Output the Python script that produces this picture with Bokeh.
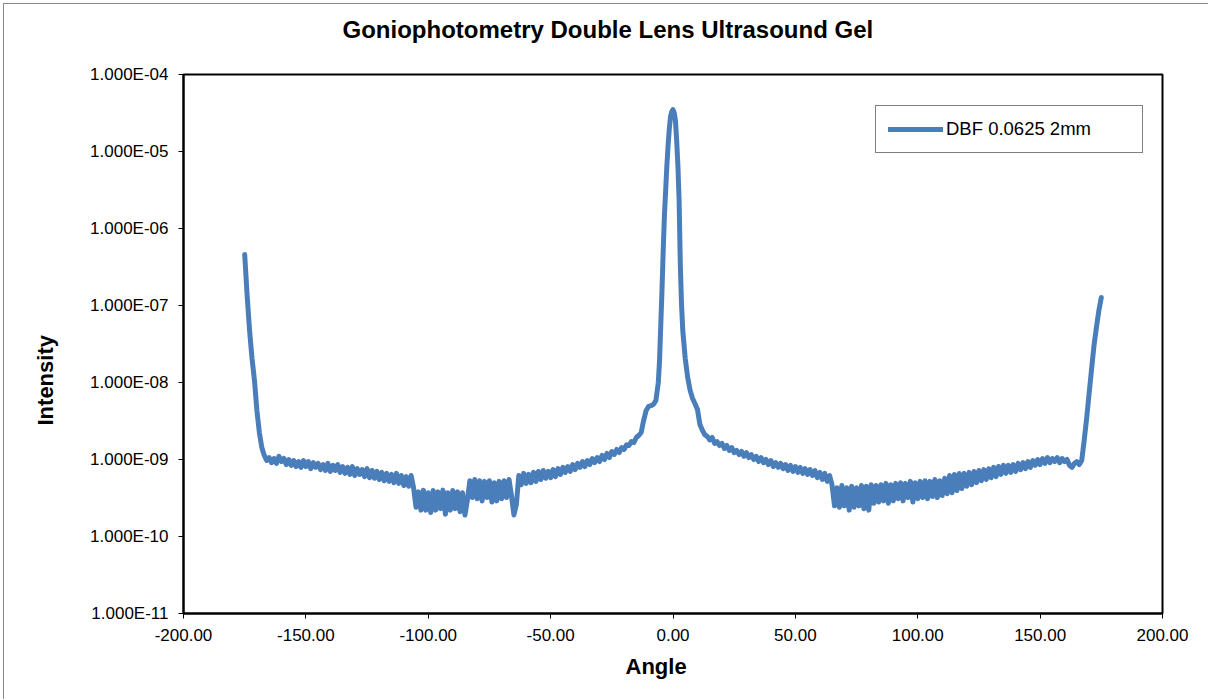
from bokeh.plotting import figure
from bokeh.models import FixedTicker, Title, LinearAxis
from bokeh.embed import file_html
from bokeh.resources import INLINE

title_text = "Goniophotometry Double Lens Ultrasound Gel"
x_title = "Angle"
y_title = "Intensity"
series_name = "DBF 0.0625 2mm"

x_ticks = [-200, -150, -100, -50, 0, 50, 100, 150, 200]
x_tick_labels = ["-200.00", "-150.00", "-100.00", "-50.00", "0.00", "50.00", "100.00", "150.00", "200.00"]
y_ticks = [1e-11, 1e-10, 1e-9, 1e-8, 1e-7, 1e-6, 1e-5, 1e-4]
y_tick_labels = ["1.000E-11", "1.000E-10", "1.000E-09", "1.000E-08", "1.000E-07", "1.000E-06", "1.000E-05", "1.000E-04"]

left_tail_angle = [-175, -174, -173, -172, -171, -170, -169, -168, -167]
left_tail_intensity = [4.6e-7, 1.35e-7, 4.7e-8, 2.05e-8, 1.06e-8, 4.3e-9, 2.24e-9, 1.43e-9, 1.13e-9]

left_band_angle = [
    -166, -165, -164, -163, -162, -161, -160, -159, -158, -157, -156, -155, -154, -153, -152, -151, -150, -149, -148, -147,
    -146, -145, -144, -143, -142, -141, -140, -139, -138, -137, -136, -135, -134, -133, -132, -131, -130, -129, -128, -127,
    -126, -125, -124, -123, -122, -121, -120, -119, -118, -117, -116, -115, -114, -113, -112, -111, -110, -109, -108, -107,
    -106, -105, -104, -103, -102, -101, -100, -99, -98, -97, -96, -95, -94, -93, -92, -91, -90, -89, -88, -87,
    -86, -85, -84, -83, -82, -81, -80, -79, -78, -77, -76, -75, -74, -73, -72, -71, -70, -69, -68, -67,
    -66, -65, -64, -63, -62, -61, -60, -59, -58, -57, -56, -55, -54, -53, -52, -51, -50, -49, -48, -47,
    -46, -45, -44, -43, -42, -41, -40, -39, -38, -37, -36, -35, -34, -33, -32, -31, -30, -29, -28, -27,
    -26, -25, -24, -23, -22, -21, -20, -19, -18, -17, -16, -15, -14]
left_band_intensity = [
    9.7e-10, 1.06e-9, 9.1e-10, 1.03e-9, 8.9e-10, 1.10e-9, 9.4e-10, 1.03e-9, 8.6e-10, 1.0e-9,
    8.4e-10, 9.7e-10, 8.1e-10, 9.4e-10, 7.9e-10, 9.7e-10, 8.1e-10, 9.4e-10, 7.6e-10, 9.1e-10,
    7.9e-10, 8.9e-10, 7.4e-10, 8.6e-10, 7.2e-10, 8.9e-10, 7.0e-10, 8.4e-10, 7.2e-10, 8.6e-10,
    6.8e-10, 8.1e-10, 6.6e-10, 7.9e-10, 6.4e-10, 8.1e-10, 6.2e-10, 7.6e-10, 6.4e-10, 7.4e-10,
    6.0e-10, 7.6e-10, 5.8e-10, 7.2e-10, 5.7e-10, 7.0e-10, 5.5e-10, 6.8e-10, 5.3e-10, 6.6e-10,
    5.2e-10, 6.4e-10, 5.0e-10, 6.6e-10, 4.9e-10, 6.2e-10, 4.6e-10, 6.0e-10, 4.5e-10, 6.2e-10,
    4.3e-10, 2.4e-10, 3.8e-10, 2.2e-10, 4.0e-10, 2.2e-10, 3.7e-10, 2.05e-10, 3.95e-10, 2.2e-10,
    3.8e-10, 2.3e-10, 4.0e-10, 1.95e-10, 3.7e-10, 2.2e-10, 3.95e-10, 2.3e-10, 3.8e-10, 2.1e-10,
    3.7e-10, 1.9e-10, 3.0e-10, 5.3e-10, 3.2e-10, 5.5e-10, 3.1e-10, 5.3e-10, 2.9e-10, 5.2e-10,
    3.2e-10, 5.3e-10, 2.8e-10, 5.0e-10, 2.9e-10, 5.2e-10, 3.1e-10, 5.3e-10, 3.2e-10, 5.5e-10,
    3.4e-10, 1.9e-10, 2.6e-10, 6.2e-10, 4.7e-10, 6.6e-10, 4.9e-10, 6.4e-10, 5.0e-10, 6.8e-10,
    5.2e-10, 7.0e-10, 5.5e-10, 7.2e-10, 5.7e-10, 7.0e-10, 5.8e-10, 7.4e-10, 6.0e-10, 7.6e-10,
    6.4e-10, 7.9e-10, 6.8e-10, 8.1e-10, 7.0e-10, 8.6e-10, 7.4e-10, 8.9e-10, 7.9e-10, 9.4e-10,
    8.1e-10, 9.7e-10, 8.6e-10, 1.03e-9, 9.1e-10, 1.06e-9, 9.4e-10, 1.13e-9, 1.0e-9, 1.2e-9,
    1.06e-9, 1.27e-9, 1.16e-9, 1.35e-9, 1.23e-9, 1.43e-9, 1.35e-9, 1.55e-9, 1.52e-9, 1.71e-9,
    1.66e-9, 1.93e-9, 2.05e-9]

peak_angle = [-13, -12, -11, -10, -9, -8, -7, -6, -5.5, -5, -4.5, -4, -3.5, -3, -2.5, -2, -1.5, -1, -0.5, 0,
              0.5, 1, 1.5, 2, 2.5, 3, 3.5, 4, 5, 6, 7, 8, 9, 10, 11, 12, 13, 14]
peak_intensity = [2.24e-9, 3.2e-9, 4.3e-9, 4.9e-9, 5.0e-9, 5.2e-9, 5.8e-9, 1.0e-8, 1.93e-8, 5.5e-8,
                  1.57e-7, 5.2e-7, 1.48e-6, 3.1e-6, 6.6e-6, 1.2e-5, 1.99e-5, 2.85e-5, 3.3e-5, 3.5e-5,
                  3.2e-5, 2.5e-5, 1.39e-5, 6.6e-6, 2.31e-6, 3.3e-7, 1.0e-7, 4.7e-8, 2.05e-8, 1.16e-8,
                  7.9e-9, 6.2e-9, 5.3e-9, 4.46e-9, 2.85e-9, 2.4e-9, 2.1e-9, 2.0e-9]

right_band_angle = [
    15, 16, 17, 18, 19, 20, 21, 22, 23, 24, 25, 26, 27, 28, 29, 30, 31, 32, 33, 34,
    35, 36, 37, 38, 39, 40, 41, 42, 43, 44, 45, 46, 47, 48, 49, 50, 51, 52, 53, 54,
    55, 56, 57, 58, 59, 60, 61, 62, 63, 64, 65, 66, 67, 68, 69, 70, 71, 72, 73, 74,
    75, 76, 77, 78, 79, 80, 81, 82, 83, 84, 85, 86, 87, 88, 89, 90, 91, 92, 93, 94,
    95, 96, 97, 98, 99, 100, 101, 102, 103, 104, 105, 106, 107, 108, 109, 110, 111, 112, 113, 114,
    115, 116, 117, 118, 119, 120, 121, 122, 123, 124, 125, 126, 127, 128, 129, 130, 131, 132, 133, 134,
    135, 136, 137, 138, 139, 140, 141, 142, 143, 144, 145, 146, 147, 148, 149, 150, 151, 152, 153, 154,
    155, 156, 157, 158, 159, 160, 161, 162, 163, 164, 165, 166, 167]
right_band_intensity = [
    1.8e-9, 1.93e-9, 1.62e-9, 1.71e-9, 1.52e-9, 1.62e-9, 1.39e-9, 1.52e-9, 1.31e-9, 1.43e-9,
    1.23e-9, 1.31e-9, 1.16e-9, 1.27e-9, 1.10e-9, 1.23e-9, 1.06e-9, 1.16e-9, 1.0e-9, 1.10e-9,
    9.4e-10, 1.06e-9, 9.1e-10, 1.0e-9, 8.6e-10, 9.7e-10, 8.1e-10, 9.1e-10, 7.9e-10, 8.9e-10,
    7.6e-10, 8.6e-10, 7.2e-10, 8.4e-10, 7.0e-10, 8.1e-10, 6.8e-10, 7.9e-10, 6.6e-10, 7.6e-10,
    6.4e-10, 7.4e-10, 6.2e-10, 7.2e-10, 5.8e-10, 6.8e-10, 5.5e-10, 6.6e-10, 5.2e-10, 6.2e-10,
    4.6e-10, 2.5e-10, 4.3e-10, 2.4e-10, 4.6e-10, 2.5e-10, 4.3e-10, 2.2e-10, 4.5e-10, 2.4e-10,
    4.3e-10, 2.5e-10, 4.6e-10, 2.3e-10, 4.5e-10, 2.2e-10, 4.7e-10, 2.7e-10, 4.6e-10, 2.8e-10,
    4.7e-10, 2.9e-10, 4.9e-10, 2.7e-10, 4.7e-10, 2.9e-10, 4.9e-10, 3.1e-10, 5.0e-10, 2.9e-10,
    4.9e-10, 3.2e-10, 5.2e-10, 2.8e-10, 5.0e-10, 3.1e-10, 5.2e-10, 3.2e-10, 5.3e-10, 3.1e-10,
    5.2e-10, 3.3e-10, 5.5e-10, 3.2e-10, 5.3e-10, 3.4e-10, 5.7e-10, 3.6e-10, 6.2e-10, 3.7e-10,
    6.4e-10, 3.95e-10, 6.6e-10, 4.2e-10, 6.6e-10, 4.5e-10, 6.8e-10, 4.7e-10, 7.0e-10, 5.0e-10,
    7.2e-10, 5.3e-10, 7.4e-10, 5.5e-10, 7.6e-10, 5.8e-10, 7.9e-10, 6.0e-10, 8.1e-10, 6.4e-10,
    8.4e-10, 6.6e-10, 8.4e-10, 6.8e-10, 8.6e-10, 7.0e-10, 8.9e-10, 7.4e-10, 9.1e-10, 7.6e-10,
    9.4e-10, 7.9e-10, 9.7e-10, 8.4e-10, 1.0e-9, 8.6e-10, 1.03e-9, 8.9e-10, 1.06e-9, 9.1e-10,
    1.03e-9, 9.4e-10, 1.06e-9, 9.1e-10, 1.03e-9, 9.4e-10, 1.0e-9, 8.4e-10, 7.9e-10, 8.9e-10,
    9.4e-10, 8.6e-10, 9.7e-10]

right_tail_angle = [168, 169, 170, 171, 172, 173, 174, 175]
right_tail_intensity = [1.77e-9, 3.4e-9, 7.1e-9, 1.48e-8, 3.0e-8, 5.2e-8, 8.6e-8, 1.27e-7]

angle = left_tail_angle + left_band_angle + peak_angle + right_band_angle + right_tail_angle
intensity = left_tail_intensity + left_band_intensity + peak_intensity + right_band_intensity + right_tail_intensity
n = min(len(angle), len(intensity))
angle = angle[:n]
intensity = intensity[:n]

FONT = "Liberation Sans"
LINE_COLOR = "#4a7ebb"

p = figure(width=1205, height=696, y_axis_type="log",
           x_range=(-200, 200), y_range=(1e-11, 1e-4),
           output_backend="svg", toolbar_location=None,
           min_border_left=179, min_border_right=47, min_border_top=70, min_border_bottom=87,
           background_fill_color="white", border_fill_color="white")
p.styles = {"margin-left": "3px", "margin-top": "3px",
            "border-left": "1px solid #8a8a8a", "border-top": "1px solid #8a8a8a"}

p.line(angle, intensity, line_color=LINE_COLOR, line_width=5,
       line_cap="round", line_join="round", legend_label=series_name)

xax = p.below[0]
yax = p.left[0]
for ax in (xax, yax):
    ax.axis_line_color = "black"
    ax.axis_line_width = 2
    ax.major_tick_line_color = "black"
    ax.major_tick_line_width = 1
    ax.major_tick_in = 0
    ax.major_tick_out = 5
    ax.minor_tick_line_color = None
    ax.major_label_text_font = FONT
    ax.major_label_text_font_size = "17px"
    ax.major_label_text_color = "black"

xax.ticker = FixedTicker(ticks=x_ticks)
xax.major_label_overrides = dict(zip(x_ticks, x_tick_labels))
yax.ticker = FixedTicker(ticks=y_ticks)
yax.major_label_overrides = dict(zip(y_ticks, y_tick_labels))
xax.major_label_standoff = 10
yax.major_label_standoff = 10

# invisible spacer between the title and the plot frame (one hidden tick, empty label)
spacer = LinearAxis(ticker=FixedTicker(ticks=[0], minor_ticks=[]), axis_line_color=None,
                    major_tick_line_color=None, minor_tick_line_color=None,
                    major_tick_in=0, major_tick_out=19, minor_tick_out=0,
                    major_label_standoff=0, major_label_text_font_size="0px",
                    major_label_overrides={0: ""})
p.add_layout(spacer, "above")

p.title.text = title_text
p.title.text_font = FONT
p.title.text_font_size = "24px"
p.title.text_font_style = "bold"
p.title.text_color = "black"
p.title.align = "left"
p.title.offset = 159
p.title.vertical_align = "top"
p.title.standoff = 21

p.xgrid.visible = False
p.ygrid.visible = False
p.outline_line_color = "black"
p.outline_line_width = 2
p.outline_line_alpha = 1

# axis titles as side-panel titles
x_lab = Title(text=x_title, align="left", offset=442, vertical_align="top", standoff=20,
              text_font=FONT, text_font_size="22px", text_font_style="bold", text_color="black")
y_lab = Title(text=y_title, align="left", offset=188, vertical_align="top", standoff=56,
              text_font=FONT, text_font_size="22px", text_font_style="bold", text_color="black")
p.add_layout(x_lab, "below")
p.add_layout(y_lab, "left")

lg = p.legend[0]
lg.location = (692, 460)
lg.border_line_color = "black"
lg.border_line_width = 1
lg.background_fill_color = "white"
lg.background_fill_alpha = 1
lg.padding = 12
lg.margin = 0
lg.glyph_width = 55
lg.glyph_height = 20
lg.label_height = 20
lg.label_width = 184
lg.label_standoff = 3
lg.label_text_font = FONT
lg.label_text_font_size = "18.5px"
lg.label_text_color = "black"

open("out.html", "w").write(file_html(p, INLINE))
